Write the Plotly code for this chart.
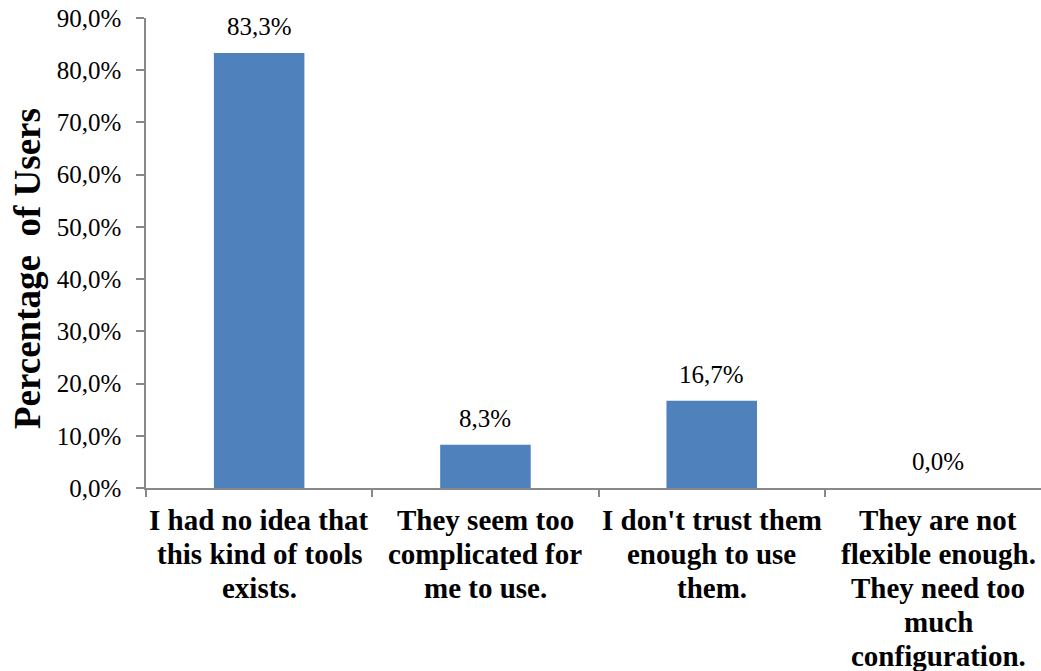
import plotly.graph_objects as go

# Survey responses: reasons for not using such tools
categories = [
    "I had no idea that<br>this kind of tools<br>exists.",
    "They seem too<br>complicated for<br>me to use.",
    "I don't trust them<br>enough to use<br>them.",
    "They are not<br>flexible enough.<br>They need too<br>much<br>configuration.",
]
share_of_users = [0.833, 0.083, 0.167, 0.0]
y_ticks = [0.0, 0.1, 0.2, 0.3, 0.4, 0.5, 0.6, 0.7, 0.8, 0.9]

SERIF = "Liberation Serif, Times New Roman, serif"
AXIS_GREY = "#888888"
LABEL_SIZE = 29
LABEL_LINE_HEIGHT = 34.0

fig = go.Figure(
    go.Bar(
        x=categories,
        y=share_of_users,
        width=0.4,
        marker=dict(color="#4F81BD", line=dict(width=0)),
        showlegend=False,
        hovertemplate="%{y:.1%}<extra></extra>",
    )
)

fig.update_layout(
    width=1041,
    height=671,
    margin=dict(l=146, r=0, t=18, b=183),
    paper_bgcolor="white",
    plot_bgcolor="white",
    separators=", ",
    font=dict(family=SERIF, color="black"),
)

fig.update_xaxes(
    type="category",
    range=[-0.5, 3.455],
    tickson="boundaries",
    ticks="outside",
    ticklen=7,
    tickwidth=1.5,
    tickcolor=AXIS_GREY,
    showline=True,
    linecolor=AXIS_GREY,
    linewidth=1.5,
    showgrid=False,
    showticklabels=False,
)

fig.update_yaxes(
    range=[0, 0.9],
    tickvals=y_ticks,
    tickformat=".1%",
    ticks="outside",
    ticklen=8,
    tickwidth=1.5,
    tickcolor=AXIS_GREY,
    showline=True,
    linecolor=AXIS_GREY,
    linewidth=1.5,
    showgrid=False,
    zeroline=False,
    ticklabelstandoff=10,
    tickfont=dict(family=SERIF, size=25, color="black"),
)

# Value labels above each bar
for cat, val in zip(categories, share_of_users):
    fig.add_annotation(
        text=f"{val * 100:.1f}%".replace(".", ","),
        x=cat,
        y=val,
        xref="x",
        yref="y",
        xanchor="center",
        yanchor="bottom",
        yshift=12,
        showarrow=False,
        borderpad=0,
        font=dict(family=SERIF, size=25, color="black"),
    )

# Category labels, one annotation per line for tighter line spacing
for cat in categories:
    for i, line in enumerate(cat.split("<br>")):
        fig.add_annotation(
            text=line,
            x=cat,
            y=0,
            xref="x",
            yref="y",
            xanchor="center",
            yanchor="top",
            yshift=-15 - i * LABEL_LINE_HEIGHT,
            showarrow=False,
            borderpad=0,
            font=dict(family=SERIF, size=LABEL_SIZE, color="black", weight="bold"),
        )

fig.add_annotation(
    text="Percentage&nbsp; of Users",
    textangle=-90,
    xref="paper",
    yref="paper",
    x=0,
    y=0.5,
    xshift=-119,
    yshift=-16,
    xanchor="center",
    yanchor="middle",
    showarrow=False,
    font=dict(family=SERIF, size=37, color="black", weight="bold"),
)

fig.write_html("out.html")
